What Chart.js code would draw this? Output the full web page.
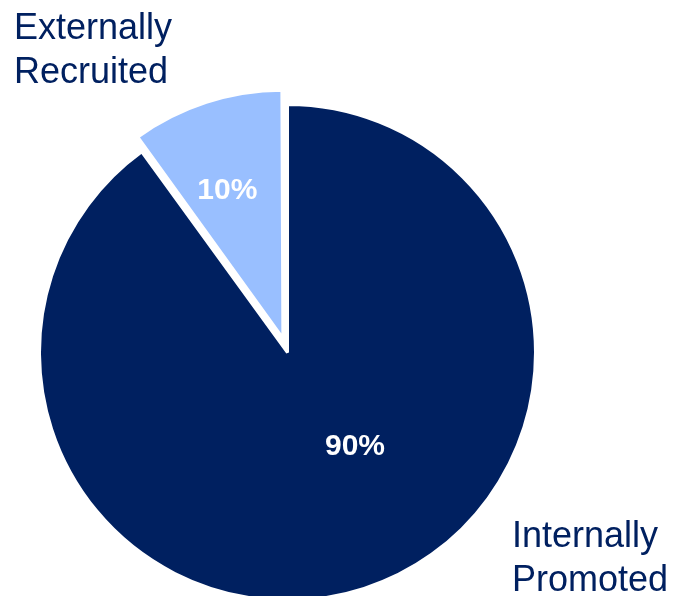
<!DOCTYPE html>
<html lang="en">
<head>
  <meta charset="UTF-8">
  <title>Internal vs external hires</title>
  <script src="https://cdn.jsdelivr.net/npm/chart.js"></script>
  <style>
    html, body { margin: 0; padding: 0; background: #fff; }
    .wrap { width: 676px; height: 596px; position: relative; }
  </style>
</head>
<body>
<div class="wrap">
  <canvas id="pieChart" width="676" height="596"></canvas>
</div>

<script>
  // data
  const categories = ['Internally Promoted', 'Externally Recruited'];
  const shares = [90, 10];
  const sliceColors = ['#002060', '#99bfff'];
  const explode = [0, 60]; // chart.js divides arc offset by 4

  const navy = '#002060';

  // outer text labels + percentages inside the slices
  const labelPlugin = {
    id: 'sliceLabels',
    beforeDatasetsDraw(chart) {
      // keep exploded slice the same radius as the rest
      const meta = chart.getDatasetMeta(0);
      meta.data.forEach((arc, i) => {
        const off = (explode[i] || 0) / 4;
        if (!off) return;
        const fix = 1 - Math.sin(Math.min(Math.PI, arc.circumference));
        arc.outerRadius = chart.options.radius - off * fix;
      });
    },
    afterDatasetsDraw(chart) {
      const ctx = chart.ctx;
      const meta = chart.getDatasetMeta(0);
      const pctPos = [ { dx: 67.5, dy: 94 }, { dx: -55.5, dy: -147 } ];

      ctx.save();
      ctx.textAlign = 'center';
      ctx.textBaseline = 'middle';
      ctx.fillStyle = '#ffffff';
      ctx.font = 'bold 30px "Liberation Sans", Arial, sans-serif';
      meta.data.forEach((arc, i) => {
        const off = (explode[i] || 0) / 4;
        const mid = (arc.startAngle + arc.endAngle) / 2;
        const x = arc.x + Math.cos(mid) * off + pctPos[i].dx;
        const y = arc.y + Math.sin(mid) * off + pctPos[i].dy;
        ctx.fillText(shares[i] + '%', x, y);
      });

      ctx.textAlign = 'left';
      ctx.textBaseline = 'alphabetic';
      ctx.fillStyle = navy;
      ctx.font = '36px "Liberation Sans", Arial, sans-serif';
      ctx.fillText('Externally', 14, 39);
      ctx.fillText('Recruited', 14, 83);
      ctx.fillText('Internally', 512, 547);
      ctx.fillText('Promoted', 512, 591);
      ctx.restore();
    }
  };

  const ctx = document.getElementById('pieChart').getContext('2d');
  const chart = new Chart(ctx, {
    type: 'pie',
    data: {
      labels: categories,
      datasets: [{
        data: shares,
        backgroundColor: sliceColors,
        borderColor: '#ffffff',
        borderWidth: 3,
        offset: explode
      }]
    },
    options: {
      responsive: false,
      animation: false,
      radius: 248,
      layout: {
        padding: { left: 0, right: 101, top: 109, bottom: 0 }
      },
      plugins: {
        legend: { display: false },
        tooltip: { enabled: false }
      }
    },
    plugins: [labelPlugin]
  });
</script>
</body>
</html>
